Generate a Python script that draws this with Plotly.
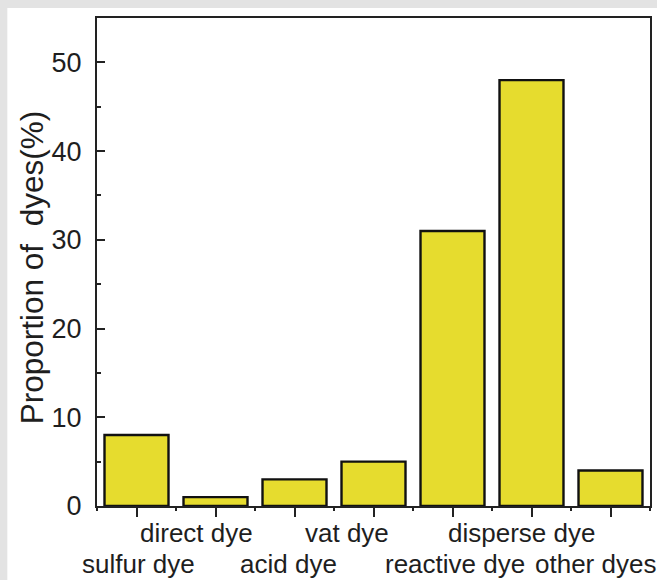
import plotly.graph_objects as go

categories = ["sulfur dye", "direct dye", "acid dye", "vat dye",
              "reactive dye", "disperse dye", "other dyes"]
proportions = [8, 1, 3, 5, 31, 48, 4]
y_ticks = [0, 10, 20, 30, 40, 50]

# label layout (staggered rows, per-label horizontal nudges)
label_row = [1, 0, 1, 0, 1, 0, 1]
label_nudge = [2, -19, -6, -27, 2, -10, -15]

BAR = "#e6dc2e"
FONT = "Liberation Sans, Arial, sans-serif"
TXT = "#1e1e1e"

fig = go.Figure()
fig.add_trace(go.Bar(
    x=categories, y=proportions, width=0.81,
    marker=dict(color=BAR, line=dict(color="#111", width=2.4)),
    showlegend=False, hoverinfo="x+y",
))
# invisible helper trace on a numeric overlay axis for boundary ticks
fig.add_trace(go.Scatter(x=[-0.5, 6.5], y=[0, 0], xaxis="x2", mode="markers",
                         marker=dict(opacity=0), showlegend=False, hoverinfo="skip"))

fig.update_layout(
    width=657, height=580,
    margin=dict(l=97, r=5, t=18, b=74),
    paper_bgcolor="#e3e3e3", plot_bgcolor="white",
    font=dict(family=FONT, color=TXT),
    xaxis=dict(
        type="category", categoryorder="array", categoryarray=categories,
        range=[-0.5, 6.5], showline=True, linecolor="#222", linewidth=2,
        mirror=True, ticks="outside", ticklen=9, tickwidth=2, tickcolor="#222",
        showticklabels=False, showgrid=False, zeroline=False, fixedrange=True,
    ),
    xaxis2=dict(
        overlaying="x", range=[-0.5, 6.5], tickmode="array",
        tickvals=[i - 0.5 for i in range(len(categories) + 1)],
        ticks="outside", ticklen=4, tickwidth=2, tickcolor="#222",
        showticklabels=False, showgrid=False, zeroline=False, showline=False,
        anchor="y", side="bottom",
    ),
    yaxis=dict(
        range=[0, 55], tickmode="array", tickvals=y_ticks,
        ticks="inside", ticklen=8, tickwidth=2, tickcolor="#222",
        minor=dict(tickvals=[5, 15, 25, 35, 45], ticks="inside", ticklen=4,
                   tickwidth=2, tickcolor="#222"),
        showline=True, linecolor="#222", linewidth=2, mirror=True,
        tickfont=dict(size=27, color=TXT, family=FONT), ticklabelstandoff=8,
        showgrid=False, zeroline=False,
    ),
    shapes=[dict(type="rect", xref="paper", yref="paper",
                 x0=(7 - 97) / 555, x1=(660 - 97) / 555,
                 y0=(506 - 585) / 488, y1=(506 - 8) / 488,
                 fillcolor="white", line=dict(width=0), layer="below")],
)

annotations = [dict(
    text="Proportion of  dyes(%)", textangle=-90, xref="paper", yref="paper",
    x=(32 - 97) / 555, y=(506 - 268) / 488, xanchor="center", yanchor="middle",
    showarrow=False, font=dict(size=31.5, color=TXT, family=FONT),
)]
for cat, row, nudge in zip(categories, label_row, label_nudge):
    annotations.append(dict(
        text=cat, x=cat, xref="x", y=0, yref="paper", yanchor="middle",
        xanchor="center", showarrow=False, xshift=nudge,
        yshift=-(27 + 31 * row), font=dict(size=26, color=TXT, family=FONT),
    ))
fig.update_layout(annotations=annotations)

fig.write_html("out.html", config={"displayModeBar": False},
               post_script="document.body.style.margin='0';"
                           "document.body.style.overflow='hidden';")
